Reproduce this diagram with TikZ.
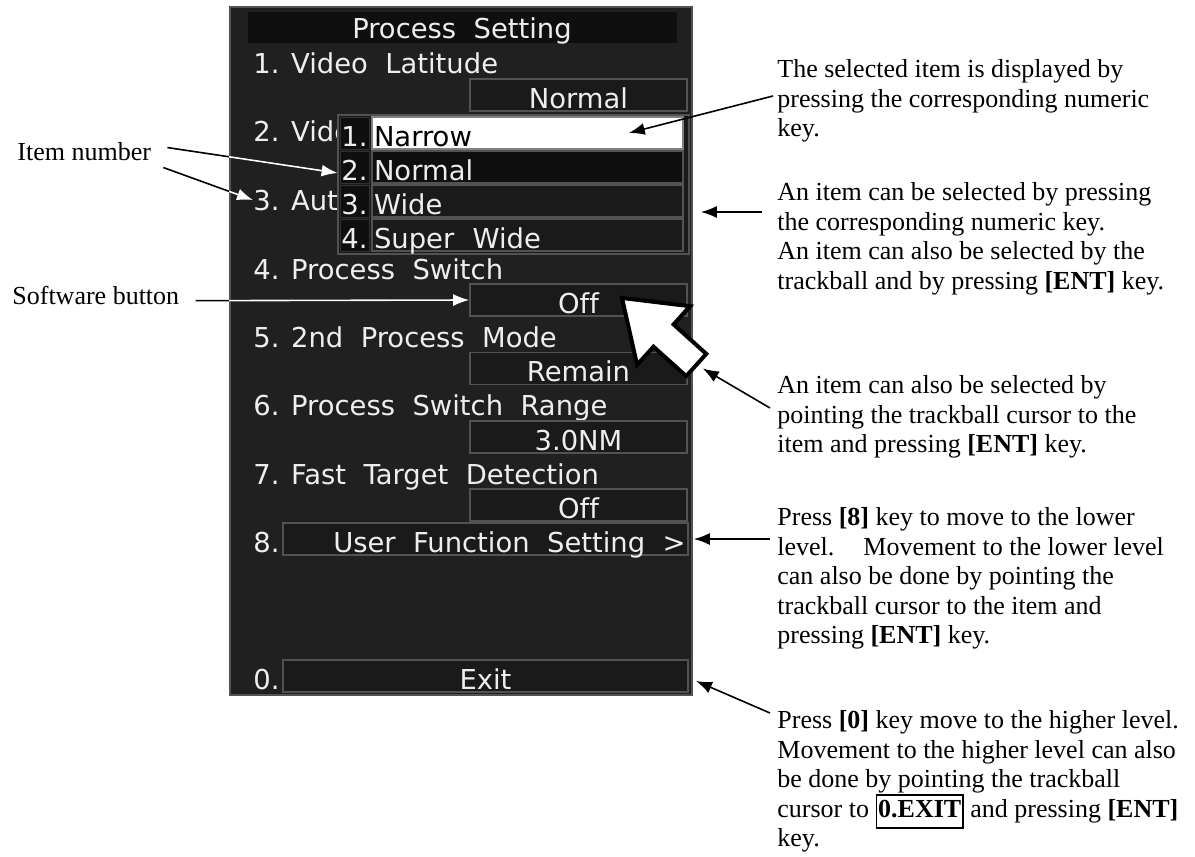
\documentclass[tikz,border=0pt]{standalone}
\usepackage{fontspec}
\setmainfont{Liberation Serif}
\newfontfamily\crtfont[Ligatures=NoCommon]{DejaVu Sans}
\usetikzlibrary{arrows.meta,calc}

\definecolor{crtbg}{RGB}{32,32,32}
\definecolor{crtdark}{RGB}{15,15,15}
\definecolor{crtedge}{RGB}{82,82,82}
\definecolor{crtcell}{RGB}{26,26,26}
\definecolor{crttext}{RGB}{238,238,238}

\newcommand{\crt}{\crtfont\fontsize{13.7}{16}\selectfont}
\newcommand{\notefont}{\fontsize{13}{14.8}\selectfont}
\setlength{\fboxsep}{0.5pt}
\setlength{\fboxrule}{0.8pt}

\begin{document}
\begin{tikzpicture}[x=0.5pt, y=-0.5pt,
    screen/.style={draw=crtedge, line width=1pt, fill=crtbg, minimum width=231pt, minimum height=344pt, inner sep=0pt},
    titlebar/.style={fill=crtdark, minimum width=214.5pt, minimum height=15.5pt, inner sep=0pt},
    item/.style={font=\crt, text=crttext, inner sep=0pt, anchor=base west},
    valbox/.style={draw=crtedge, fill=crtcell, line width=0.8pt, minimum width=108.5pt, minimum height=16pt, inner sep=0pt, font=\crt, text=crttext, text height=13.5pt, text depth=0.5pt},
    widebox/.style={valbox, minimum width=202.5pt},
    ddnum/.style={draw=crtedge!60!black, fill=crtdark, minimum width=14.5pt, minimum height=16pt, inner sep=0pt, font=\crt, text=crttext, text height=13.5pt, text depth=0.5pt},
    dditem/.style={draw=crtedge, fill=crtcell, line width=0.8pt, text width=153.5pt, inner xsep=1pt, inner ysep=0pt, minimum height=16pt, align=left, font=\crt, text=crttext, text height=13.5pt, text depth=0.5pt},
    note/.style={font=\notefont, align=left, inner sep=0pt, anchor=north west},
    arrow/.style={-{Latex[length=8pt,width=6pt]}, line width=0.8pt},
]
\useasboundingbox (0,0) rectangle (1195,857);

% Menu window
\node[screen] (screen) at (461,351) {};
\node[titlebar] (title) at (462.5,27.5) {};
\node[item, anchor=base] (titletext) at (462,38) {Process~~Setting};

\node[item] (row1) at (253,73) {1. Video~~Latitude};
\node[valbox] (val1) at (578.5,95) {Normal};
\node[item] (row2) at (253,141) {2. Vide};
\node[item] (row3) at (253,210) {3. Aut};
\node[item] (row4) at (253,279) {4. Process~~Switch};
\node[valbox] (val4) at (578.5,300) {Off};
\node[item] (row5) at (253,347) {5. 2nd~~Process~~Mode};
\node[valbox] (val5) at (578.5,368.5) {Remain};
\node[item] (row6) at (253,415) {6. Process~~Switch~~Range};
\node[valbox] (val6) at (578.5,437) {3.0NM};
\node[item] (row7) at (253,484) {7. Fast~~Target~~Detection};
\node[valbox] (val7) at (578.5,505) {Off};
\node[item] (row8) at (253,552) {8.};
\node[widebox] (val8) at (485.5,539) {};
\node[item, anchor=base east] (val8text) at (686,552) {User~~Function~~Setting~~>};
\node[item] (row0) at (253,689) {0.};
\node[widebox] (val0) at (485.5,676) {Exit};

% Pull-down list
\node[draw=crtedge, fill=crtcell, line width=0.8pt, minimum width=175.5pt, minimum height=69.5pt, inner sep=0pt] (ddframe) at (513.5,184.5) {};
\node[ddnum] (ddn1) at (354.5,133) {1.};
\node[ddnum] (ddn2) at (354.5,167) {2.};
\node[ddnum] (ddn3) at (354.5,201) {3.};
\node[ddnum] (ddn4) at (354.5,235) {4.};
\node[dditem, fill=white, draw=gray, text=black] (ddi1) at (527.5,133) {Narrow};
\node[dditem, fill=crtdark] (ddi2) at (527.5,167) {Normal};
\node[dditem] (ddi3) at (527.5,201) {Wide};
\node[dditem] (ddi4) at (527.5,235) {Super~~Wide};

% Trackball cursor
\filldraw[fill=white, draw=black, line width=2pt, line join=miter]
  (622,298) -- (690,306.2) -- (673.6,324.4) -- (706.3,353.9)
  -- (686.2,376.1) -- (653.5,346.7) -- (637.1,364.8) -- cycle;

% Callouts
\node[note] (itemnum) at (17,142) {Item number};
\node[note] (swbtn) at (12,286) {Software button};
\node[note] (note1) at (777,59) {The selected item is displayed by\\pressing the corresponding numeric\\key.};
\node[note] (note2) at (777,182) {An item can be selected by pressing\\the corresponding numeric key.\\An item can also be selected by the\\trackball and by pressing \textbf{[ENT]} key.};
\node[note] (note3) at (777,375) {An item can also be selected by\\pointing the trackball cursor to the\\item and pressing \textbf{[ENT]} key.};
\node[note] (note4) at (777,507) {Press \textbf{[8]} key to move to the lower\\level.\hspace{14.5pt}Movement to the lower level\\can also be done by pointing the\\trackball cursor to the item and\\pressing \textbf{[ENT]} key.};
\node[note] (note5) at (777,710) {Press \textbf{[0]} key move to the higher level.\\Movement to the higher level can also\\be done by pointing the trackball\\cursor to \fbox{\strut\textbf{0.EXIT}} and pressing \textbf{[ENT]}\\key.};

\draw[arrow] ($(itemnum.east)+(8pt,2pt)$) -- ($(ddn2.west)+(-1pt,-3pt)$);
\draw[arrow] ($(itemnum.east)+(6pt,-8pt)$) -- (row3.west);
\draw[arrow] ($(swbtn.east)+(8pt,-2.5pt)$) -- (val4.west);
\draw[arrow] ($(note1.north west)+(-2pt,-18.5pt)$) -- ($(ddi1.east)+(-27.5pt,0)$);
\draw[arrow] ($(note2.north west)+(-7.5pt,-15pt)$) -- ($(ddframe.east)+(5.5pt,-13.75pt)$);
\draw[arrow] ($(note3.north west)+(-3.5pt,-16.5pt)$) -- ($(val5.east)+(7.5pt,0)$);
\draw[arrow] ($(note4.north west)+(-3.5pt,-16pt)$) -- ($(val8.east)+(2.5pt,0)$);
\draw[arrow] ($(note5.north west)+(-3.5pt,-1.5pt)$) -- ($(screen.south east)+(1.5pt,7.5pt)$);

% same leaders in white where they run over the window
\begin{scope}
  \clip (screen.north west) rectangle (screen.south east);
  \draw[arrow, white] ($(itemnum.east)+(8pt,2pt)$) -- ($(ddn2.west)+(-1pt,-3pt)$);
  \draw[arrow, white] ($(itemnum.east)+(6pt,-8pt)$) -- (row3.west);
  \draw[arrow, white] ($(swbtn.east)+(8pt,-2.5pt)$) -- (val4.west);
\end{scope}
\end{tikzpicture}
\end{document}
